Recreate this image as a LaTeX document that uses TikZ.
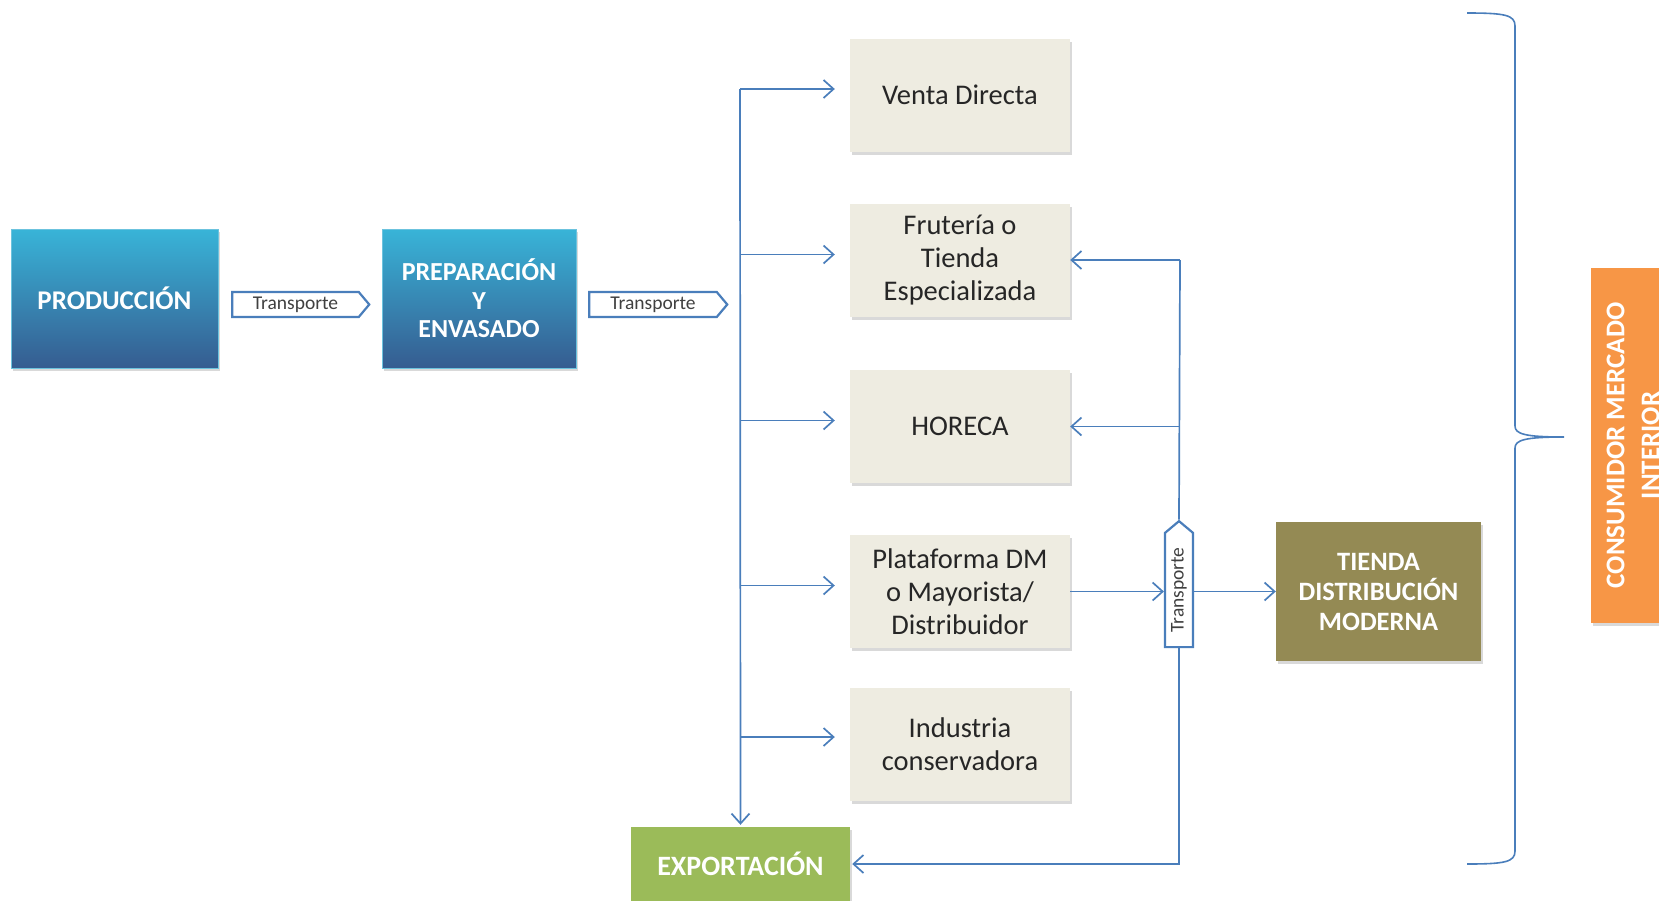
\documentclass[tikz,border=0pt]{standalone}
\usepackage{fontspec}
\setmainfont{Carlito}
\usetikzlibrary{arrows.meta,positioning,shapes.symbols,shadows}
\definecolor{flowblue}{HTML}{4A7EBB}
\definecolor{stagetop}{HTML}{38B4D8}
\definecolor{stagebottom}{HTML}{365C90}
\definecolor{stageedge}{HTML}{6CC3DE}
\definecolor{channelgray}{HTML}{EEECE1}
\definecolor{moderngreen}{HTML}{948A54}
\definecolor{exportgreen}{HTML}{9BBB59}
\definecolor{marketorange}{HTML}{F79646}
\definecolor{labelgray}{HTML}{404040}

\begin{document}
\begin{tikzpicture}[
    x=1pt, y=-1pt,
    stage/.style={draw=stageedge, line width=1pt, top color=stagetop, bottom color=stagebottom,
                  minimum width=#1, minimum height=139pt, align=center, text=white,
                  font=\fontsize{26}{28.5}\selectfont\bfseries,
                  drop shadow={shadow xshift=2pt, shadow yshift=-3pt, opacity=0.3}},
    channel/.style={fill=channelgray, minimum width=220pt, minimum height=113pt, align=center,
                    text=black!85, font=\fontsize{28.5}{33}\selectfont,
                    drop shadow={shadow xshift=2pt, shadow yshift=-3pt, opacity=0.3}},
    solid box/.style={fill=#1, align=center, text=white,
                      font=\fontsize{26.5}{30}\selectfont\bfseries,
                      drop shadow={shadow xshift=2pt, shadow yshift=-3pt, opacity=0.3}},
    transport/.style={shape=signal, signal to=east, signal from=nowhere, signal pointer angle=100,
                      draw=flowblue, line width=2.2pt, fill=white, inner sep=1pt,
                      minimum height=25pt, text=labelgray, font=\fontsize{19.5}{22}\selectfont},
    line/.style={draw=flowblue, line width=1.7pt},
    flow/.style={line, -{Straight Barb[length=10pt, width=18pt, line width=1.7pt]}}
]
\useasboundingbox (0,0) rectangle (1659,900);
\clip (0,0) rectangle (1659,900);

% --- producer chain ---
\node[stage=207pt, font=\fontsize{27}{30}\selectfont\bfseries] (prod) at (114.5,298.5) {PRODUCCIÓN};
\node[transport, minimum width=137pt] (trans1) at (295.5,304.5) {Transporte};
\node[stage=194pt] (prep) at (479,298.5) {PREPARACIÓN\\Y\\ENVASADO};
\node[transport, minimum width=138pt] (trans2) at (653,304.5) {Transporte};

% --- sales channels ---
\node[channel] (venta)  at (960,95)    {Venta Directa};
\node[channel] (frut)   at (960,260.5) {Frutería o\\Tienda\\Especializada};
\node[channel] (horeca) at (960,426.5) {HORECA};
\node[channel] (plat)   at (960,591.5) {Plataforma DM\\o Mayorista/\\Distribuidor};
\node[channel] (indus)  at (960,744)   {Industria\\conservadora};

\node[solid box=exportgreen, minimum width=219pt, minimum height=74pt,
      font=\fontsize{28}{30}\selectfont\bfseries] (export) at (740.5,864) {EXPORTACIÓN};
\node[solid box=moderngreen, minimum width=205pt, minimum height=139pt] (tienda) at (1378.5,591.5) {TIENDA\\DISTRIBUCIÓN\\MODERNA};
\node[transport, rotate=90, minimum width=126pt, minimum height=28pt] (trans3) at (1179,590) {Transporte};

\node[solid box=marketorange, rotate=90, minimum width=355pt, minimum height=84pt,
      font=\fontsize{27}{35}\selectfont\bfseries] (market) at (1633,445.5) {CONSUMIDOR MERCADO\\INTERIOR};

% --- trunk and branches ---
\coordinate (trunk) at (740,89);
\coordinate (ventain)  at ([xshift=-15pt,yshift=6pt]venta.west);
\coordinate (frutin)   at ([xshift=-15pt,yshift=6pt]frut.west);
\coordinate (horecain) at ([xshift=-15pt,yshift=6pt]horeca.west);
\coordinate (platin)   at ([xshift=-15pt,yshift=6pt]plat.west);
\coordinate (indusin)  at ([xshift=-15pt,yshift=7pt]indus.west);

\draw[flow] (trunk) -- ([yshift=2pt]export.north);
\draw[flow] (trunk)              -- (ventain);
\draw[flow] (trunk |- frutin)    -- (frutin);
\draw[flow] (trunk |- horecain)  -- (horecain);
\draw[flow] (trunk |- platin)    -- (platin);
\draw[flow] (trunk |- indusin)   -- (indusin);

% --- modern distribution side ---
\coordinate (feed) at (1180,260);
\draw[flow] (feed) -- (frut.east |- feed);
\draw[line] (feed) -- (trans3.east);
\draw[flow] (trans3.east |- horeca.east) -- (horeca.east);
\draw[flow] (plat.east) -- (trans3.north |- plat.east);
\draw[flow] (trans3.south |- tienda.west) -- (tienda.west);
\draw[flow] (trans3.west) |- ([xshift=2pt]export.east);

% --- brace to the consumer ---
\coordinate (bracetop) at (1467,13);
\coordinate (bracetip) at (1564,437);
\coordinate (bracebottom) at (1467,864);
\draw[line, line width=1.6pt] (bracetop) .. controls (1505,13) and (1515,15) .. (1515,26)
    -- (1515,426) .. controls (1515,434) and (1525,437) .. (bracetip)
    .. controls (1525,437) and (1515,440) .. (1515,448)
    -- (1515,851) .. controls (1515,862) and (1505,864) .. (bracebottom);

\end{tikzpicture}
\end{document}
